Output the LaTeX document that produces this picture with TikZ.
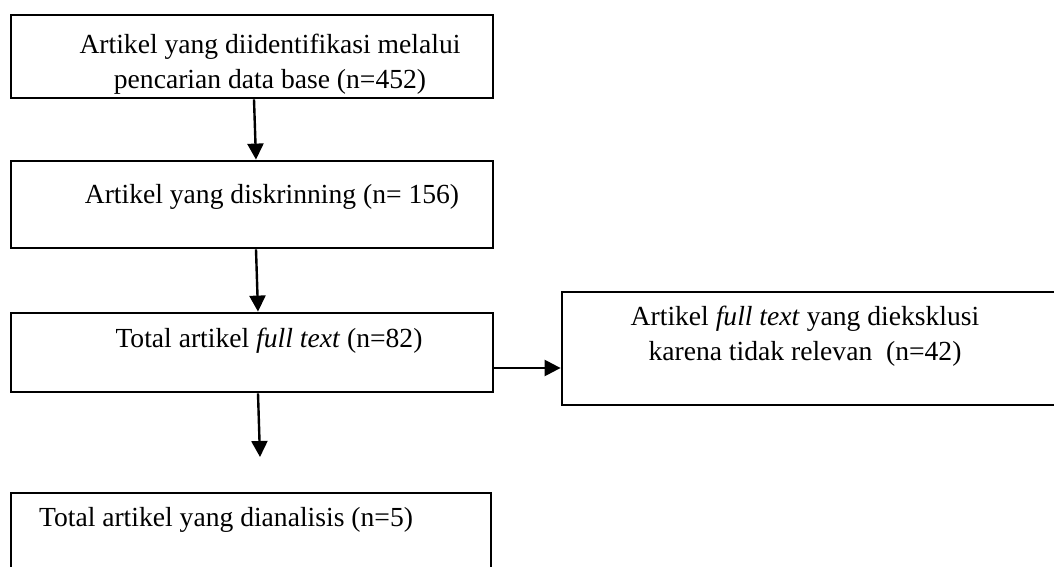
\documentclass[tikz,border=0pt]{standalone}
\usepackage{fontspec}
\setmainfont{Liberation Serif}
\usetikzlibrary{arrows.meta,calc}

\begin{document}
\begin{tikzpicture}[x=0.5pt,y=-0.5pt,
    box/.style={draw,line width=1.4pt,inner sep=0pt},
    txt/.style={align=center,font=\fontsize{13.8}{17.5}\selectfont,inner sep=0pt},
    arrow/.style={line width=1.2pt,-{Triangle[length=8pt,width=8pt]}}]
    \useasboundingbox (0,0) rectangle (1054,567);
    \begin{scope} % Boxes
        \node[box,minimum width=241pt,minimum height=41.5pt] (b1) at (252,56.5) {};
        \node[box,minimum width=241pt,minimum height=43.5pt] (b2) at (252,204.5) {};
        \node[box,minimum width=241pt,minimum height=39.5pt] (b3) at (252,352.5) {};
        \node[box,minimum width=254pt,minimum height=56.5pt] (b4) at (816,348.5) {};
        \node[box,minimum width=240pt,minimum height=43pt] (b5) at (251,536) {};
    \end{scope}
    \begin{scope} % Texts in boxes
        \node[txt] (t1) at (270,64) {Artikel yang diidentifikasi melalui\\pencarian data base (n=452)};
        \node[txt] (t2) at (272,197) {Artikel yang diskrinning (n= 156)};
        \node[txt] (t3) at (269,341) {Total artikel \textit{full text} (n=82)};
        \node[txt] (t4) at (805,336) {Artikel \textit{full text} yang dieksklusi\\karena tidak relevan~~(n=42)};
        \node[txt] (t5) at (226,520) {Total artikel yang dianalisis (n=5)};
    \end{scope}

% Arrows between boxes
\coordinate (e3) at (260,457);
\draw[arrow] ([xshift=1pt]b1.south) -- ([xshift=2pt]b2.north);
\draw[arrow] ([xshift=2pt]b2.south) -- ([xshift=3pt]b3.north);
\draw[arrow] ([xshift=3pt]b3.south) -- (e3);
\draw[arrow] ([yshift=-7.75pt]b3.east) -- ([yshift=-7.75pt]b3.east -| b4.west);

\end{tikzpicture}
\end{document}
